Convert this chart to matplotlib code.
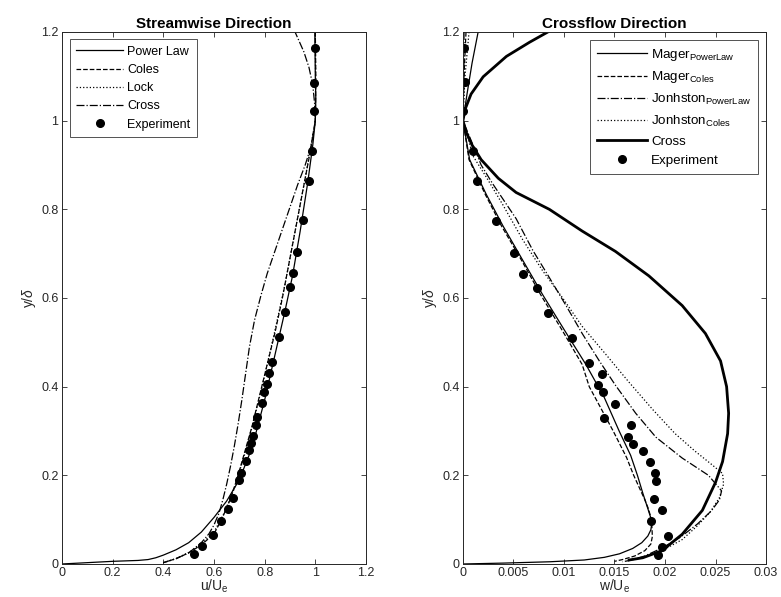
import matplotlib

matplotlib.use("Agg")
import matplotlib.pyplot as plt
from matplotlib.ticker import FormatStrFormatter

plt.rcParams["font.family"] = ["Liberation Sans", "DejaVu Sans"]
plt.rcParams["mathtext.fontset"] = "custom"
plt.rcParams["mathtext.rm"] = "Liberation Sans"
plt.rcParams["mathtext.it"] = "Liberation Sans:italic"
plt.rcParams["mathtext.default"] = "regular"

INK = "#262626"

# ---- streamwise (u/Ue, y/delta) ----
pow_u = [0, 0.1, 0.2, 0.3, 0.34, 0.37, 0.40, 0.45, 0.50, 0.55, 0.60, 0.65, 0.70, 0.75, 0.80,
         0.85, 0.88, 0.91, 0.94, 0.97, 0.99, 1.0, 1.002, 1.0, 0.998]
pow_y = [0, 0.003, 0.006, 0.008, 0.010, 0.014, 0.020, 0.032, 0.048, 0.072, 0.105, 0.142,
         0.190, 0.262, 0.370, 0.495, 0.570, 0.650, 0.750, 0.860, 0.945, 1.0, 1.05, 1.1, 1.2]
coles_u = [0.40, 0.45, 0.50, 0.55, 0.60, 0.63, 0.66, 0.69, 0.72, 0.75, 0.78, 0.81, 0.84,
           0.87, 0.90, 0.93, 0.96, 0.98, 1.0, 1.002, 1.0]
coles_y = [0.003, 0.012, 0.025, 0.043, 0.068, 0.100, 0.140, 0.190, 0.250, 0.310, 0.380,
           0.450, 0.520, 0.600, 0.690, 0.780, 0.870, 0.930, 1.0, 1.1, 1.2]
lock_u = [0.40, 0.45, 0.50, 0.55, 0.60, 0.64, 0.68, 0.72, 0.76, 0.80, 0.84, 0.88, 0.92,
          0.96, 1.0, 1.001, 1.0]
lock_y = [0.003, 0.012, 0.026, 0.045, 0.072, 0.115, 0.170, 0.245, 0.330, 0.425, 0.525,
          0.630, 0.750, 0.870, 1.0, 1.1, 1.2]
cross_u = [0.40, 0.45, 0.50, 0.55, 0.58, 0.60, 0.62, 0.635, 0.65, 0.665, 0.68, 0.695, 0.71,
           0.725, 0.74, 0.76, 0.785, 0.81, 0.84, 0.87, 0.90, 0.93, 0.96, 0.985, 1.0,
           0.997, 0.99, 0.975, 0.955, 0.92]
cross_y = [0.003, 0.012, 0.025, 0.048, 0.068, 0.088, 0.115, 0.145, 0.180, 0.220, 0.265,
           0.315, 0.370, 0.430, 0.490, 0.550, 0.605, 0.655, 0.705, 0.755, 0.805, 0.855,
           0.900, 0.945, 1.0, 1.04, 1.08, 1.12, 1.155, 1.2]
exp_u = [0.520, 0.552, 0.598, 0.629, 0.657, 0.674, 0.698, 0.707, 0.725, 0.740, 0.746, 0.754,
         0.765, 0.770, 0.789, 0.798, 0.808, 0.817, 0.829, 0.855, 0.880, 0.900, 0.912,
         0.929, 0.953, 0.976, 0.987, 0.996, 0.996, 1.0]
exp_y = [0.023, 0.041, 0.066, 0.098, 0.123, 0.148, 0.190, 0.206, 0.232, 0.257, 0.273, 0.289,
         0.313, 0.331, 0.363, 0.388, 0.405, 0.430, 0.455, 0.511, 0.568, 0.625, 0.657,
         0.704, 0.776, 0.865, 0.932, 1.021, 1.086, 1.163]

# ---- crossflow (w/Ue, y/delta) ----
magp_w = [0.0015, 0.0009, 0.0004, 0, 0.00066, 0.0023, 0.00395, 0.00592, 0.0079, 0.01003,
          0.01217, 0.0140, 0.01546, 0.0166, 0.01727, 0.0178, 0.0183, 0.01858, 0.01868,
          0.0186, 0.0183, 0.0177, 0.0168, 0.0155, 0.0140, 0.0120, 0.0086, 0.004, 0]
magp_y = [1.2, 1.13, 1.06, 1.0, 0.912, 0.834, 0.763, 0.685, 0.607, 0.528, 0.45, 0.375,
          0.30, 0.245, 0.20, 0.16, 0.125, 0.105, 0.090, 0.077, 0.063, 0.048, 0.035, 0.023,
          0.015, 0.009, 0.005, 0.002, 0]
magc_w = [0.0003, 0.0001, 0, 0.0006, 0.0022, 0.0038, 0.0058, 0.0077, 0.0098, 0.0118,
          0.0125, 0.01487, 0.0162, 0.0169, 0.0175, 0.0180, 0.01835, 0.0186, 0.0187, 0.01875,
          0.0186, 0.0180, 0.0170, 0.0158, 0.0150]
magc_y = [1.2, 1.1, 1.0, 0.912, 0.834, 0.763, 0.685, 0.607, 0.528, 0.45, 0.40, 0.30,
          0.24, 0.20, 0.17, 0.145, 0.125, 0.105, 0.085, 0.062, 0.045, 0.030, 0.018, 0.010,
          0.006]
jonp_w = [0.0001, 0.0001, 0, 0.0018, 0.00296, 0.00526, 0.0069, 0.00855, 0.0102, 0.0118,
          0.0135, 0.0151, 0.0171, 0.0191, 0.0217, 0.0243, 0.0256, 0.0254, 0.0246, 0.0232,
          0.0215, 0.0197, 0.0180, 0.0165, 0.0158]
jonp_y = [1.2, 1.1, 1.0, 0.90, 0.857, 0.779, 0.708, 0.646, 0.583, 0.52, 0.458, 0.403,
          0.34, 0.286, 0.239, 0.200, 0.165, 0.145, 0.12, 0.09, 0.06, 0.036, 0.018, 0.008,
          0.005]
jonc_w = [0.0006, 0.0002, 0, 0.001, 0.0023, 0.00395, 0.0059, 0.0079, 0.0099, 0.0118, 0.0141,
          0.0164, 0.0188, 0.021, 0.023, 0.0247, 0.0257, 0.0258, 0.0254, 0.0245, 0.0232,
          0.0217, 0.0197, 0.0178, 0.0164]
jonc_y = [1.2, 1.1, 1.0, 0.92, 0.873, 0.81, 0.732, 0.661, 0.599, 0.536, 0.474, 0.411,
          0.348, 0.294, 0.254, 0.223, 0.204, 0.180, 0.150, 0.118, 0.086, 0.055, 0.030, 0.014,
          0.008]
crs_w = [0.0084, 0.0066, 0.0043, 0.002, 0.0008, 0.0002, 0, 0.0003, 0.0009, 0.0018, 0.0035,
         0.00526, 0.00855, 0.0118, 0.0151, 0.0184, 0.0217, 0.024, 0.0255, 0.0261, 0.0263,
         0.0262, 0.0257, 0.025, 0.0237, 0.0217, 0.0197, 0.0178, 0.01645]
crs_y = [1.2, 1.177, 1.145, 1.099, 1.06, 1.025, 1.0, 0.975, 0.945, 0.912, 0.870, 0.838,
         0.80, 0.751, 0.705, 0.65, 0.583, 0.52, 0.458, 0.40, 0.34, 0.294, 0.231, 0.184,
         0.121, 0.067, 0.030, 0.014, 0.009]
expw_w = [0.00007, 0.00023, 0.0, 0.001, 0.00141, 0.00322, 0.0051, 0.00592, 0.0073, 0.00845,
          0.0108, 0.0125, 0.01375, 0.0134, 0.0139, 0.01503, 0.0140, 0.01668, 0.01638,
          0.0168, 0.01783, 0.01852, 0.01898, 0.01914, 0.01888, 0.01974, 0.01859, 0.02026,
          0.01967, 0.01931]
expw_y = [1.163, 1.087, 1.021, 0.931, 0.865, 0.773, 0.702, 0.654, 0.622, 0.567, 0.510, 0.454,
          0.428, 0.403, 0.387, 0.362, 0.330, 0.313, 0.287, 0.271, 0.254, 0.229, 0.205,
          0.188, 0.146, 0.121, 0.098, 0.064, 0.038, 0.021]

fig = plt.figure(figsize=(7.81, 5.97), dpi=100)
ax1 = fig.add_axes([0.0794, 0.0553, 0.3892, 0.8911])
ax2 = fig.add_axes([0.5928, 0.0553, 0.3880, 0.8911])

lw = 0.9
ax1.plot(pow_u, pow_y, "k-", lw=lw, label="Power Law")
ax1.plot(coles_u, coles_y, "k--", lw=lw, label="Coles")
ax1.plot(lock_u, lock_y, "k:", lw=lw, label="Lock")
ax1.plot(cross_u, cross_y, "k-.", lw=lw, label="Cross")
ax1.plot(exp_u, exp_y, "ko", ms=5.5, ls="none", label="Experiment")

ax2.plot(magp_w, magp_y, "k-", lw=lw, label="Mager$_{PowerLaw}$")
ax2.plot(magc_w, magc_y, "k--", lw=lw, label="Mager$_{Coles}$")
ax2.plot(jonp_w, jonp_y, "k-.", lw=lw, label="Jonhston$_{PowerLaw}$")
ax2.plot(jonc_w, jonc_y, "k:", lw=lw, label="Jonhston$_{Coles}$")
ax2.plot(crs_w, crs_y, "k-", lw=2.0, label="Cross")
ax2.plot(expw_w, expw_y, "ko", ms=5.5, ls="none", label="Experiment")

ax1.set_xlim(0, 1.2)
ax2.set_xlim(0, 0.03)
ax1.set_xticks([0, 0.2, 0.4, 0.6, 0.8, 1.0, 1.2])
ax2.set_xticks([0, 0.005, 0.01, 0.015, 0.02, 0.025, 0.03])
for ax in (ax1, ax2):
    ax.set_ylim(0, 1.2)
    ax.set_yticks([0, 0.2, 0.4, 0.6, 0.8, 1.0, 1.2])
    ax.xaxis.set_major_formatter(FormatStrFormatter("%g"))
    ax.yaxis.set_major_formatter(FormatStrFormatter("%g"))
    ax.tick_params(direction="in", top=True, right=True, length=3.5, width=0.6,
                   colors=INK, labelsize=9, labelcolor=INK, pad=2.5)
    ax.tick_params(axis="x", pad=2)
    for s in ax.spines.values():
        s.set_color(INK)
        s.set_linewidth(0.7)
    ax.set_ylabel("y/$\\it{\\delta}$", fontsize=10, color=INK, labelpad=2)

ax1.set_xlabel("u/U$_e$", fontsize=10, color=INK, va="bottom")
ax2.set_xlabel("w/U$_e$", fontsize=10, color=INK, va="bottom")
for ax in (ax1, ax2):
    ax.xaxis.set_label_coords(0.5, -0.059)
ax1.set_title("Streamwise Direction", fontsize=11, fontweight="bold", pad=3)
ax2.set_title("Crossflow Direction", fontsize=11, fontweight="bold", pad=3)

leg_kw = dict(frameon=True, fancybox=False, edgecolor=INK, handlelength=3.8,
              handletextpad=0.3, borderpad=0.5, labelspacing=0.5, borderaxespad=0.6)
l1 = ax1.legend(loc="upper left", fontsize=9, **leg_kw)
l2 = ax2.legend(loc="upper right", fontsize=9.6, **leg_kw)
for lg in (l1, l2):
    lg.get_frame().set_linewidth(0.7)

fig.savefig("out.png", dpi=100)
